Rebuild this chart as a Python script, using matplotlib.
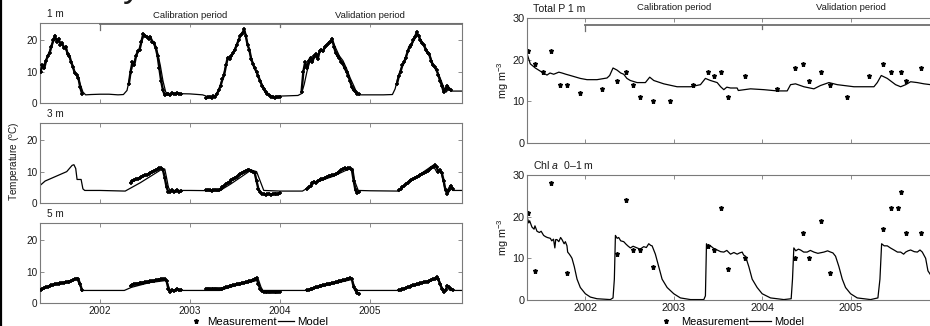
import numpy as np
import matplotlib
matplotlib.use("Agg")
import matplotlib.pyplot as plt
from matplotlib.lines import Line2D

plt.rcParams['font.family'] = ['Liberation Sans', 'DejaVu Sans']
plt.rcParams['mathtext.fontset'] = 'custom'
plt.rcParams['mathtext.rm'] = 'Liberation Sans'
plt.rcParams['mathtext.it'] = 'Liberation Sans:italic'

# ---------------- data (decimal years) ----------------
year_ticks = [2002, 2003, 2004, 2005]
year_labels = ['2002', '2003', '2004', '2005']
period_start = [2002, 2004]
period_names = ['Calibration period', 'Validation period']
period_label_at = [2003, 2005]
MEAS_STEP = 0.02  # sampling interval of the temperature logger series

# Temperature 1 m - model
t1_model_time = [2001.33, 2001.36, 2001.39, 2001.42, 2001.45, 2001.48, 2001.51, 2001.54, 2001.57, 2001.60,
                 2001.63, 2001.66, 2001.69, 2001.72, 2001.75, 2001.78, 2001.81, 2001.84, 2001.90, 2002.00,
                 2002.10, 2002.20, 2002.26, 2002.30, 2002.33, 2002.36, 2002.39, 2002.42, 2002.45, 2002.48,
                 2002.51, 2002.54, 2002.58, 2002.61, 2002.64, 2002.67, 2002.70, 2002.73, 2002.76, 2002.85,
                 2003.00, 2003.14, 2003.20, 2003.26, 2003.30, 2003.33, 2003.37, 2003.40, 2003.43, 2003.47,
                 2003.50, 2003.54, 2003.58, 2003.61, 2003.63, 2003.66, 2003.69, 2003.72, 2003.76, 2003.80,
                 2003.84, 2003.88, 2003.95, 2004.00, 2004.10, 2004.20, 2004.24, 2004.27, 2004.30, 2004.33,
                 2004.37, 2004.41, 2004.45, 2004.50, 2004.55, 2004.59, 2004.62, 2004.66, 2004.70, 2004.74,
                 2004.78, 2004.82, 2004.85, 2004.88, 2005.00, 2005.15, 2005.25, 2005.28, 2005.31, 2005.34,
                 2005.37, 2005.40, 2005.44, 2005.48, 2005.52, 2005.54, 2005.58, 2005.62, 2005.66, 2005.70,
                 2005.74, 2005.78, 2005.82, 2005.85, 2005.88, 2005.91, 2006.02]
t1_model_val = [10.5, 11.5, 13, 15, 17.5, 19.5, 20.5, 20, 19, 18,
                16.5, 14.5, 12, 9.5, 8.5, 6, 3.5, 2.6, 2.7, 2.8,
                2.8, 2.6, 2.7, 4, 8, 12, 14, 16, 18.5, 21,
                21.5, 21, 20, 19, 16, 12, 7, 3.5, 2.8, 3,
                2.9, 2.6, 2.0, 2.0, 3.0, 5, 8.5, 12, 14.5, 15.5,
                17.5, 20, 22.5, 23, 20, 16.5, 13.5, 11, 8, 6,
                4, 2.5, 2, 2.2, 2.3, 2.4, 3, 6, 10, 13,
                14, 15, 16.5, 17.5, 19, 19.5, 17.5, 15, 13.5, 11,
                8, 5.5, 3.5, 2.6, 2.6, 2.6, 2.7, 4.5, 8, 10.5,
                12.5, 15, 17.5, 19.5, 21.5, 21.5, 19.5, 17.5, 15.5, 12.5,
                10.5, 8, 5, 3.5, 5, 3.8, 3.8]

# Temperature 1 m - measurements (season start + values every MEAS_STEP)
t1_meas_start = [2001.34, 2002.32, 2003.18, 2004.24, 2005.30]
t1_meas_vals = [
    [10, 12, 11, 13.5, 15, 16, 18, 20, 21.5, 19.5, 20.5, 18.5, 19, 17.5, 18, 15.5, 15, 13, 11.5, 9.5,
     9, 8, 5, 3],
    [6, 10, 13, 12, 15, 16.5, 17, 19.5, 22, 21.5, 21, 20.5, 21, 19.5, 19, 17.5, 15, 11, 7, 4,
     2.5, 2.8, 3, 2.5, 3.2, 3, 2.8, 3.2, 3, 2.8],
    [1.5, 1.8, 2.0, 1.6, 2.2, 2.0, 3, 4, 5.5, 7.5, 9, 12, 14.5, 14, 15, 16, 17, 18.5, 20, 21.5,
     22, 23.5, 21.5, 18.5, 17, 14, 12.5, 11, 10, 8.5, 7, 5.5, 4.5, 3.5, 3, 2.5, 2, 1.8, 1.6, 2,
     1.8, 2],
    [3.5, 10, 13, 11, 13.5, 14.5, 13, 15, 15.5, 14, 16.5, 17, 16.5, 18, 18.5, 19, 19.5, 20.5, 18, 16,
     15, 14.5, 13, 12.5, 11, 10, 8.5, 7, 5, 4, 3.5, 3, 2.8],
    [6, 8.5, 10, 12, 13, 14.5, 16.5, 18, 18.5, 20, 21, 22.5, 21.5, 20, 19, 18.5, 17, 16, 15.5, 13.5,
     12, 11.5, 10.5, 9, 7, 5.5, 3.5, 4.5, 5.5, 4.5, 4],
]

# Temperature 3 m - model
t3_model_time = [2001.33, 2001.39, 2001.63, 2001.69, 2001.71, 2001.73, 2001.745, 2001.79, 2001.81, 2001.83,
                 2002.00, 2002.28, 2002.45, 2002.70, 2002.72, 2002.74, 2002.76, 2002.78, 2003.00, 2003.33,
                 2003.45, 2003.68, 2003.74, 2003.78, 2003.82, 2004.00, 2004.25, 2004.32, 2004.39, 2004.59,
                 2004.74, 2004.81, 2004.83, 2004.87, 2005.00, 2005.31, 2005.50, 2005.70, 2005.74, 2005.79,
                 2005.83, 2005.85, 2005.89, 2005.92, 2006.02]
t3_model_val = [5.5, 7, 10, 12, 12.2, 11, 7.5, 7.5, 4.5, 4,
                4, 3.8, 6.5, 11, 10.8, 8, 5, 4, 4, 3.9,
                6, 10.5, 10, 7, 4, 3.8, 3.8, 5, 6.5, 8.5,
                10.5, 11, 7, 4, 3.9, 3.8, 8, 12, 10, 10,
                5, 3.5, 5.5, 4, 4]

t3_meas_start = [2002.34, 2003.18, 2004.30, 2005.32]
t3_meas_vals = [
    [6.5, 7, 7.2, 7.5, 7.8, 8, 8.2, 8.5, 8.8, 9, 9.3, 9.6, 10, 10.2, 10.5, 10.8, 11, 11.2, 10.5, 8,
     5, 3.5, 3.5, 4, 3.5, 3.8, 4, 3.5, 3.8],
    [4, 4.2, 4, 3.8, 4, 4.2, 4, 4, 4.5, 5, 5.5, 6, 6.3, 6.8, 7.2, 7.5, 8, 8.4, 8.8, 9.2,
     9.6, 10, 10.3, 10.5, 10.5, 10.3, 10, 9.5, 7, 4.5, 3.5, 3, 2.8, 2.6, 2.8, 3, 2.7, 2.8, 3, 2.8,
     3, 3.2],
    [4.5, 5, 5.5, 6.5, 6.8, 6.5, 7, 7.2, 7.5, 7.8, 8, 8.2, 8.5, 8.5, 8.8, 9, 9.2, 9.5, 10, 10.5,
     10.8, 11, 10.8, 11, 11, 10.5, 7, 4, 3.2, 3.5],
    [4, 4.5, 5, 5.5, 6, 6.5, 7, 7.3, 7.6, 8, 8.3, 8.6, 9, 9.3, 9.6, 10, 10.3, 10.6, 11, 11.5,
     12, 11.5, 10, 10.5, 9.5, 7, 4, 3, 4, 5.5, 4.5],
]

# Temperature 5 m - model
t5_model_time = [2001.33, 2001.50, 2001.65, 2001.72, 2001.74, 2001.77, 2001.80, 2002.00, 2002.27, 2002.35,
                 2002.55, 2002.74, 2002.76, 2002.78, 2003.00, 2003.33, 2003.50, 2003.72, 2003.76, 2003.79,
                 2003.81, 2004.00, 2004.30, 2004.50, 2004.80, 2004.82, 2004.84, 2005.00, 2005.30, 2005.50,
                 2005.72, 2005.76, 2005.80, 2005.83, 2005.86, 2005.89, 2006.02]
t5_model_val = [4.3, 5.8, 6.8, 7.5, 7.8, 6, 4, 4, 4, 5,
                6.5, 7.2, 5.5, 4, 4, 4, 5.5, 7, 7.5, 5,
                4, 4, 4, 5.5, 7.5, 6, 4, 4, 4, 5.5,
                7.5, 8, 5, 4, 5, 4, 4]

t5_meas_start = [2001.34, 2002.34, 2003.18, 2004.30, 2005.32]
t5_meas_vals = [
    [4.3, 4.5, 4.7, 5, 5.2, 5.4, 5.6, 5.8, 6, 6.1, 6.2, 6.3, 6.4, 6.5, 6.6, 6.7, 6.8, 7, 7.2, 7.5,
     7.8, 7.5, 6, 4],
    [5.5, 5.8, 6, 6.1, 6.2, 6.3, 6.4, 6.5, 6.6, 6.7, 6.8, 6.9, 7, 7.1, 7.2, 7.3, 7.4, 7.5, 7.5, 7.6,
     7, 4.5, 3.5, 4, 3.8, 4.2, 4.5, 4, 4.2],
    [4.5, 4.6, 4.5, 4.4, 4.5, 4.6, 4.5, 4.4, 4.5, 4.6, 4.8, 5, 5.2, 5.4, 5.5, 5.7, 5.8, 6, 6.1, 6.2,
     6.4, 6.5, 6.6, 6.8, 7, 7, 7.2, 7.5, 8, 6, 4.5, 3.8, 3.5, 3.5, 3.6, 3.4, 3.5, 3.6, 3.5, 3.4,
     3.5, 3.6],
    [4, 4.2, 4.4, 4.6, 4.8, 5, 5.2, 5.4, 5.5, 5.7, 5.8, 6, 6.1, 6.2, 6.3, 6.5, 6.6, 6.8, 7, 7.1,
     7.2, 7.4, 7.5, 7.6, 8, 7.5, 5, 4, 3.2, 3],
    [4, 4.2, 4.4, 4.6, 4.8, 5, 5.2, 5.4, 5.6, 5.8, 6, 6.1, 6.3, 6.5, 6.6, 6.8, 6.8, 7, 7.2, 7.5,
     7.8, 8.2, 7.5, 6, 4.5, 3.5, 4, 5.5, 5, 4.5, 4.2],
]

# Total P 1 m (mg m-3)
tp_meas_time = [2001.347, 2001.426, 2001.521, 2001.615, 2001.709, 2001.792, 2001.943, 2002.192, 2002.362,
                2002.460, 2002.540, 2002.623, 2002.770, 2002.955, 2003.215, 2003.385, 2003.457, 2003.536,
                2003.619, 2003.804, 2004.170, 2004.366, 2004.457, 2004.532, 2004.668, 2004.762, 2004.962,
                2005.211, 2005.366, 2005.460, 2005.566, 2005.623, 2005.800]
tp_meas_val = [22, 19, 17, 22, 14, 14, 12, 13, 15,
               17, 14, 11, 10, 10, 14, 17, 16, 17,
               11, 16, 13, 18, 19, 15, 17, 14, 11,
               16, 19, 17, 17, 15, 18]
tp_model_time = [2001.347, 2001.377, 2001.434, 2001.509, 2001.566, 2001.600, 2001.642, 2001.700, 2001.736,
                 2001.780, 2001.830, 2001.943, 2002.019, 2002.132, 2002.245, 2002.275, 2002.313, 2002.358,
                 2002.400, 2002.434, 2002.470, 2002.509, 2002.585, 2002.679, 2002.728, 2002.774, 2002.887,
                 2003.038, 2003.189, 2003.302, 2003.358, 2003.415, 2003.491, 2003.530, 2003.566, 2003.600,
                 2003.642, 2003.717, 2003.730, 2003.868, 2004.019, 2004.170, 2004.283, 2004.321, 2004.377,
                 2004.472, 2004.585, 2004.660, 2004.755, 2004.849, 2005.038, 2005.264, 2005.302, 2005.347,
                 2005.415, 2005.509, 2005.566, 2005.623, 2005.679, 2005.755, 2005.830, 2005.906, 2006.00]
tp_model_val = [21, 19, 18, 17, 16.3, 16.8, 16.5, 17, 16.8,
                16.5, 16.2, 15.5, 15.2, 15.2, 15.6, 16.2, 18, 17.5,
                16.8, 16.5, 15.5, 15, 14.5, 14.5, 15.8, 15, 14.2,
                13.5, 13.5, 14, 15.5, 15, 14.5, 13.5, 12.8, 13.4,
                13.2, 13.2, 12.6, 13, 12.8, 12.5, 12.5, 14, 14.2,
                13.5, 13, 13.8, 14.5, 14, 13.5, 13.5, 14.5, 16.2,
                15.5, 14, 13.5, 14, 14.7, 14.5, 14.2, 14, 14]

# Chl a 0-1 m (mg m-3)
chl_meas_time = [2001.351, 2001.434, 2001.615, 2001.792, 2002.358, 2002.460, 2002.540, 2002.623, 2002.770,
                 2003.385, 2003.457, 2003.536, 2003.619, 2003.804, 2004.366, 2004.457, 2004.532, 2004.668,
                 2004.762, 2005.366, 2005.460, 2005.536, 2005.566, 2005.623, 2005.800]
chl_meas_val = [21, 7, 28, 6.5, 11, 24, 12, 12, 8,
                13, 12, 22, 7.5, 10, 10, 16, 10, 19,
                6.5, 17, 22, 22, 26, 16, 16]
chl_model_time = [2001.347, 2001.360, 2001.370, 2001.396, 2001.420, 2001.430, 2001.453, 2001.480, 2001.500,
                  2001.528, 2001.550, 2001.570, 2001.604, 2001.620, 2001.640, 2001.655, 2001.665, 2001.679,
                  2001.700, 2001.720, 2001.736, 2001.760, 2001.774, 2001.792, 2001.800, 2001.819, 2001.835,
                  2001.849, 2001.875, 2001.906, 2001.943, 2002.000, 2002.057, 2002.132, 2002.283, 2002.313,
                  2002.328, 2002.340, 2002.360, 2002.377, 2002.400, 2002.434, 2002.460, 2002.480, 2002.509,
                  2002.540, 2002.585, 2002.620, 2002.660, 2002.690, 2002.717, 2002.740, 2002.755, 2002.792,
                  2002.830, 2002.868, 2002.925, 2003.000, 2003.075, 2003.189, 2003.340, 2003.358, 2003.370,
                  2003.390, 2003.415, 2003.450, 2003.491, 2003.530, 2003.566, 2003.600, 2003.642, 2003.680,
                  2003.717, 2003.745, 2003.774, 2003.790, 2003.811, 2003.849, 2003.887, 2003.943, 2004.000,
                  2004.094, 2004.245, 2004.328, 2004.343, 2004.358, 2004.380, 2004.410, 2004.434, 2004.470,
                  2004.509, 2004.545, 2004.585, 2004.630, 2004.698, 2004.740, 2004.774, 2004.800, 2004.830,
                  2004.868, 2004.906, 2004.943, 2005.000, 2005.075, 2005.226, 2005.309, 2005.332, 2005.351,
                  2005.380, 2005.415, 2005.450, 2005.491, 2005.530, 2005.566, 2005.600, 2005.623, 2005.650,
                  2005.679, 2005.720, 2005.755, 2005.785, 2005.811, 2005.849, 2005.875, 2005.906, 2006.00]
chl_model_val = [19.5, 18.5, 19, 17.5, 17, 17.8, 16.5, 16.2, 16.5,
                 15.5, 15.2, 15, 14.8, 14.2, 14.6, 12.5, 14.5, 14.5,
                 14, 15, 14.5, 13.5, 14, 13, 11.5, 11, 10.5,
                 10, 8, 5, 3, 1.5, 0.7, 0.3, 0.1, 0.5,
                 5, 15.5, 14.8, 15, 14.2, 14, 13.4, 13, 12.5,
                 12.9, 12.5, 12.2, 12.8, 12.6, 13.5, 13.1, 13, 11,
                 8, 5, 3, 1.5, 0.5, 0.1, 0.1, 1, 13.5,
                 12.6, 13, 12.4, 12, 11.6, 11.5, 11.9, 11, 11.4,
                 11, 11.3, 11.5, 10.8, 10.5, 8, 5, 3, 1.5,
                 0.5, 0.1, 0.3, 5, 12.5, 11.8, 12.2, 12, 11.5,
                 11.5, 11.9, 11.5, 11.2, 11.5, 11.8, 11.5, 11.3, 10.5,
                 8, 5, 3, 1.5, 0.5, 0.1, 0.5, 5, 13.5,
                 13, 13, 12.5, 12, 11.5, 11.5, 11, 11.5, 11.8,
                 12, 11.6, 11.5, 12, 11.5, 10, 7, 6, 6]

# ---------------- figure ----------------
W, H = 930, 326
fig = plt.figure(figsize=(W / 100, H / 100), dpi=100)

def box(x0, y_top, w, h):
    return [x0 / W, (H - y_top - h) / H, w / W, h / H]

SPINE = '#7a7a7a'
TXT = '#1a1a1a'

def style(ax, yticks, fs, show_x):
    ax.set_xticks(year_ticks)
    ax.set_xticklabels(year_labels if show_x else [])
    ax.set_yticks(yticks)
    ax.tick_params(direction='in', top=True, right=True, length=3, width=0.6,
                   colors=SPINE, labelcolor=TXT, labelsize=fs, pad=2)
    for s in ax.spines.values():
        s.set_color(SPINE)
        s.set_linewidth(0.8)

left_axes = [fig.add_axes(box(40, 23 + 100 * i, 421.7, 80)) for i in range(3)]
temps = [
    ('1 m', t1_model_time, t1_model_val, t1_meas_start, t1_meas_vals),
    ('3 m', t3_model_time, t3_model_val, t3_meas_start, t3_meas_vals),
    ('5 m', t5_model_time, t5_model_val, t5_meas_start, t5_meas_vals),
]
for i, (ax, (lab, mt, mv, ms, mvals)) in enumerate(zip(left_axes, temps)):
    ax.plot(mt, mv, color='black', lw=0.9, zorder=2)
    for s, v in zip(ms, mvals):
        tt = s + MEAS_STEP * np.arange(len(v))
        ax.plot(tt, v, color='black', lw=1.7, zorder=3)
        ax.plot(tt, v, linestyle='none', marker='+', markersize=3.5, mew=1.2,
                color='black', zorder=3)
    ax.set_xlim(2001.333, 2006.02)
    ax.set_ylim(0, 25.5)
    style(ax, [0, 10, 20], 7.2, i == 2)
    ax.text(0.017, 1.11, lab, transform=ax.transAxes, fontsize=7.2, color=TXT,
            ha='left', va='center')

right_axes = [fig.add_axes(box(527, 18, 412, 125)), fig.add_axes(box(527, 175, 412, 125))]
ax = right_axes[0]
ax.plot(tp_model_time, tp_model_val, color='black', lw=0.9)
ax.plot(tp_meas_time, tp_meas_val, linestyle='none', marker='*', markersize=3.6, color='black')
ax.text(0.015, 1.072, 'Total P 1 m', transform=ax.transAxes, fontsize=7.6, color=TXT,
        ha='left', va='center')
ax = right_axes[1]
ax.plot(chl_model_time, chl_model_val, color='black', lw=0.9)
ax.plot(chl_meas_time, chl_meas_val, linestyle='none', marker='*', markersize=3.6, color='black')
ax.text(0.015, 1.08, 'Chl $\\mathit{a}$  0\u20131 m', transform=ax.transAxes, fontsize=7.6,
        color=TXT, ha='left', va='center')
for i, ax in enumerate(right_axes):
    ax.set_xlim(2001.34, 2006.0)
    ax.set_ylim(0, 30)
    style(ax, [0, 10, 20, 30], 7.8, i == 1)
    ax.set_ylabel('mg m$^{-3}$', fontsize=7.8, color=TXT, labelpad=0.5)

# period brackets
BR = '#6e6e6e'
ax = left_axes[0]
ax.plot([period_start[0], 2006.02], [25.2, 25.2], color=BR, lw=1.3, clip_on=False, zorder=5)
for p, dy in zip(period_start, [1.8, 1.0]):
    ax.plot([p, p], [25.2, 25.2 - dy], color=BR, lw=0.9, clip_on=False, zorder=5)
for name, x in zip(period_names, period_label_at):
    ax.text(x, 1.0875, name, transform=ax.get_xaxis_transform(), fontsize=6.8,
            color=TXT, ha='center', va='center')
ax = right_axes[0]
ax.plot([period_start[0], 2006.0], [28.3, 28.3], color=BR, lw=1.3, clip_on=False, zorder=5)
for p, dy in zip(period_start, [1.5, 0.9]):
    ax.plot([p, p], [28.3, 28.3 - dy], color=BR, lw=0.9, clip_on=False, zorder=5)
for name, x in zip(period_names, period_label_at):
    ax.text(x, 1.08, name, transform=ax.get_xaxis_transform(), fontsize=6.8,
            color=TXT, ha='center', va='center')

fig.text(15 / W, 1 - 161 / H, 'Temperature ($^\\mathrm{o}$C)', rotation=90, fontsize=7.2,
         color=TXT, ha='center', va='center')

# legends
handles = [Line2D([], [], linestyle='none', marker='*', markersize=3.6, color='black'),
           Line2D([], [], color='black', lw=0.9)]
labels = ['Measurement', 'Model']
fig.legend(handles, labels, loc='center', bbox_to_anchor=(258 / W, 1 - 322 / H), ncol=2,
           frameon=False, fontsize=8.2, handlelength=1.4, handletextpad=0.3,
           columnspacing=0.1, borderpad=0, borderaxespad=0)
fig.legend(handles, labels, loc='center', bbox_to_anchor=(730 / W, 1 - 322 / H), ncol=2,
           frameon=False, fontsize=7.9, handlelength=2.0, handletextpad=0.3,
           columnspacing=0.1, borderpad=0, borderaxespad=0)

# left border line and the heading of the page, cut off at the top edge
fig.add_artist(Line2D([0.6 / W, 0.6 / W], [0, 1], color='black', lw=1.6,
                      transform=fig.transFigure))
fig.text(97 / W, 1 + 4 / H, 'Dynamic lake', fontsize=26, color=TXT,
         ha='left', va='baseline')

fig.savefig('out.png', dpi=100)
